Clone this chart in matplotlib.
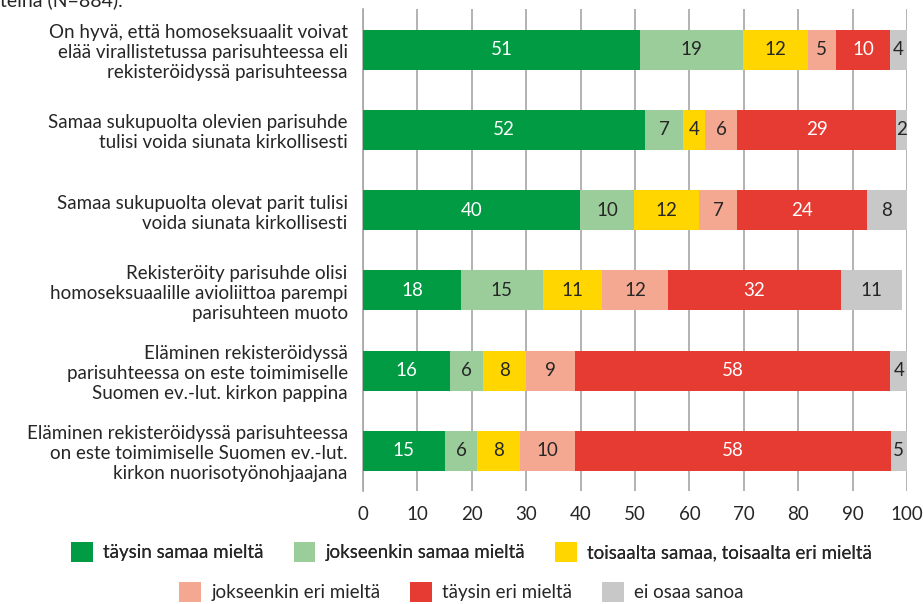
import matplotlib
matplotlib.use("Agg")
import matplotlib.pyplot as plt
from matplotlib.patches import Patch

plt.rcParams["font.family"] = ["Lato", "DejaVu Sans"]

# ─── Data ────────────────────────────────────────────────────────────────
STATEMENTS = [
    "On hyvä, että homoseksuaalit voivat\nelää virallistetussa parisuhteessa eli\nrekisteröidyssä parisuhteessa",
    "Samaa sukupuolta olevien parisuhde\ntulisi voida siunata kirkollisesti",
    "Samaa sukupuolta olevat parit tulisi\nvoida siunata kirkollisesti",
    "Rekisteröity parisuhde olisi\nhomoseksuaalille avioliittoa parempi\nparisuhteen muoto",
    "Eläminen rekisteröidyssä\nparisuhteessa on este toimimiselle\nSuomen ev.-lut. kirkon pappina",
    "Eläminen rekisteröidyssä parisuhteessa\non este toimimiselle Suomen ev.-lut.\nkirkon nuorisotyönohjaajana",
]
CATEGORIES = [
    "täysin samaa mieltä",
    "jokseenkin samaa mieltä",
    "toisaalta samaa, toisaalta eri mieltä",
    "jokseenkin eri mieltä",
    "täysin eri mieltä",
    "ei osaa sanoa",
]
# percentages per category, one value per statement (top to bottom)
taysin_samaa = [50.9, 51.85, 39.9, 18.0, 15.95, 15.0]
jokseenkin_samaa = [19.0, 6.95, 9.9, 15.0, 6.05, 6.0]
toisaalta = [11.85, 4.1, 12.0, 11.0, 8.0, 7.8]
jokseenkin_eri = [5.15, 5.9, 6.95, 12.0, 9.0, 10.2]
taysin_eri = [10.0, 29.15, 23.85, 31.9, 57.95, 58.0]
ei_osaa = [3.6, 2.0, 7.6, 11.1, 3.6, 4.6]
SERIES = [taysin_samaa, jokseenkin_samaa, toisaalta, jokseenkin_eri, taysin_eri, ei_osaa]

COLORS = ["#009B42", "#9ACD9A", "#FFD600", "#F4A892", "#E63B33", "#C8C8C8"]
TEXT_COLORS = ["white", "#262626", "#262626", "#262626", "white", "#262626"]
XTICKS = [0, 10, 20, 30, 40, 50, 60, 70, 80, 90, 100]

# ─── Plot ────────────────────────────────────────────────────────────────
fig = plt.figure(figsize=(9.23, 6.04), dpi=100)
ax = fig.add_axes([0.3933, 0.1871, 0.5894, 0.7972])

ypos = list(range(len(STATEMENTS)))
left = [0.0] * len(STATEMENTS)
for vals, col, tcol in zip(SERIES, COLORS, TEXT_COLORS):
    ax.barh(ypos, vals, left=left, height=0.5, color=col, zorder=3)
    for y, l, v in zip(ypos, left, vals):
        cx = (l + min(l + v, 100)) / 2
        ax.text(cx, y, f"{v:.0f}", ha="center", va="center",
                fontsize=13.5, color=tcol, zorder=4)
    left = [l + v for l, v in zip(left, vals)]

ax.set_xlim(0, 100)
ax.set_ylim(len(STATEMENTS) - 0.5, -0.5)
ax.set_xticks(XTICKS)
ax.set_xticklabels([str(t) for t in XTICKS], fontsize=13.5, color="#262626")
ax.set_yticks(ypos)
ax.set_yticklabels(STATEMENTS, fontsize=13.5, color="#262626",
                   linespacing=1.22, ha="right")
ax.tick_params(axis="both", length=0)
ax.tick_params(axis="x", pad=11)
ax.tick_params(axis="y", pad=11)
ax.grid(axis="x", color="#A6A6A6", lw=1.2, zorder=0)
for side in ["top", "right", "bottom"]:
    ax.spines[side].set_visible(False)
ax.spines["left"].set_color("#A6A6A6")
ax.spines["left"].set_linewidth(1.2)

# legend, two centred rows
handles = [Patch(facecolor=c, edgecolor="none", label=lab)
           for c, lab in zip(COLORS, CATEGORIES)]
leg_kw = dict(frameon=False, fontsize=13.5, handlelength=1.15, handleheight=1.2,
              handletextpad=0.55, columnspacing=1.6, labelcolor="#262626",
              borderpad=0.1)
leg1 = fig.legend(handles=handles[:3], ncol=3, loc="center",
                  bbox_to_anchor=(0.511, 1 - 552 / 604), **leg_kw)
fig.add_artist(leg1)
fig.legend(handles=handles[3:], ncol=3, loc="center",
           bbox_to_anchor=(0.5, 1 - 592 / 604), **leg_kw)

# cut-off caption at the top edge
fig.text(0.0, 1.0, "teinä (N=884).", fontsize=14, ha="left", va="center",
         color="#262626")

fig.savefig("out.png", dpi=100, facecolor="white")
plt.close(fig)
